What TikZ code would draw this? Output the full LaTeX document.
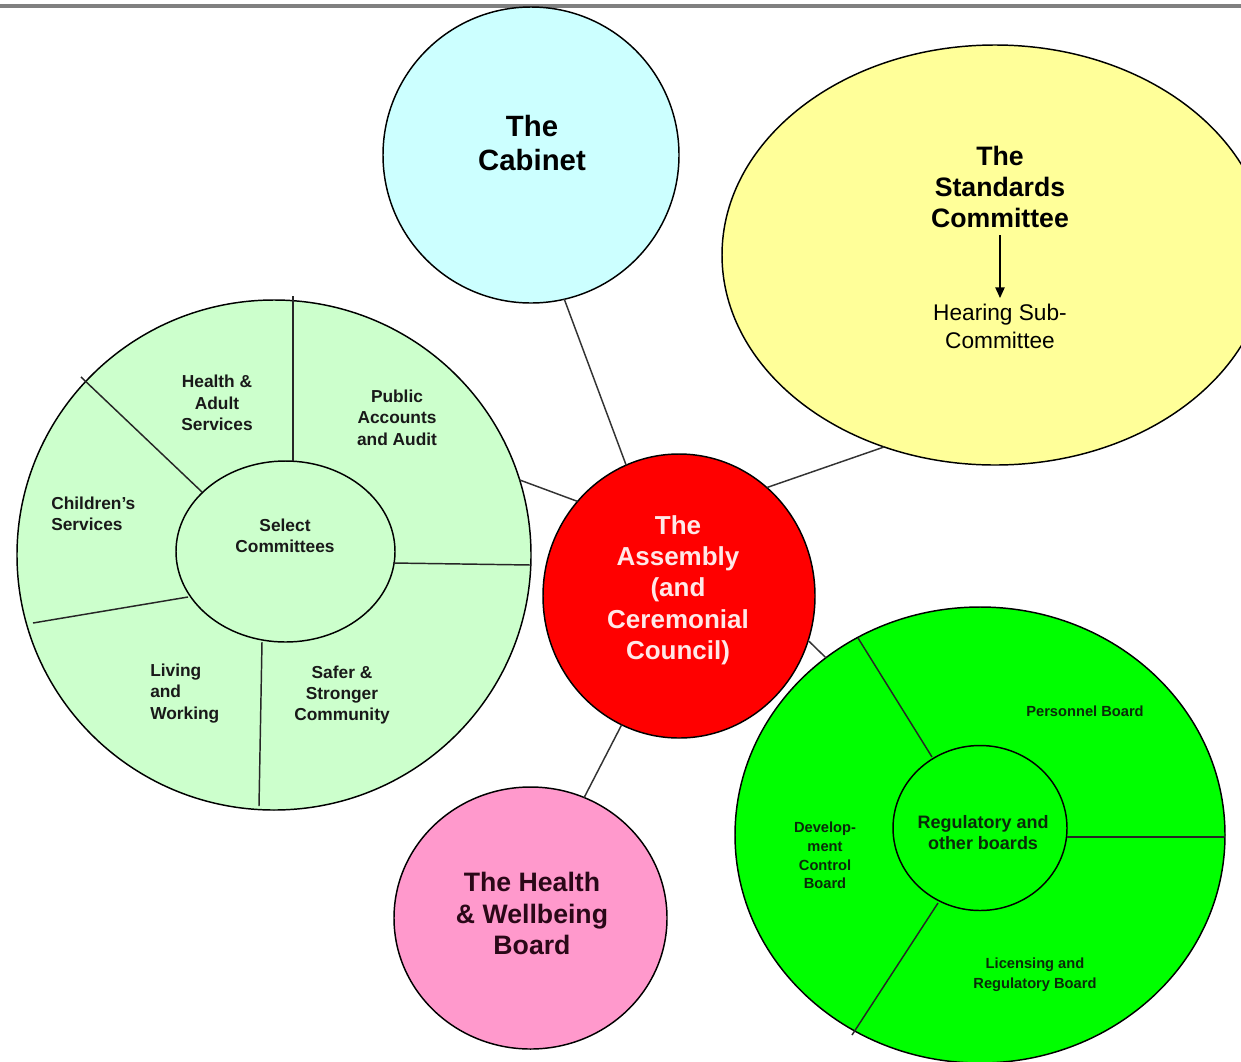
\documentclass[tikz,border=0pt]{standalone}
\usepackage{fontspec}
\setmainfont{Liberation Sans}
\usetikzlibrary{shapes.geometric,arrows.meta}
\definecolor{cabfill}{HTML}{CCFFFF}
\definecolor{stdfill}{HTML}{FFFF99}
\definecolor{selfill}{HTML}{CCFFCC}
\definecolor{asmfill}{HTML}{FF0000}
\definecolor{pinkfill}{HTML}{FF99CC}
\definecolor{grnfill}{HTML}{00FF00}
\definecolor{asmtext}{HTML}{FFE8E8}
\definecolor{pinktext}{HTML}{2A0818}
\definecolor{grntext}{HTML}{0A2A0A}
\begin{document}
\begin{tikzpicture}[x=0.75pt,y=-0.75pt,
  blob/.style={ellipse, draw=black, line width=1.1pt, inner sep=0pt, outer sep=0pt},
  conn/.style={draw=black!80, line width=1.1pt},
  divider/.style={draw=black!85, line width=1.1pt},
  lbl/.style={align=center, inner sep=0pt, font=\bfseries},
  big/.style={lbl, font=\bfseries\fontsize{22}{25}\selectfont},
  mid/.style={lbl, font=\bfseries\fontsize{19.5}{23.5}\selectfont},
  small/.style={lbl, text=black!90, font=\bfseries\fontsize{13}{16}\selectfont},
  tiny/.style={lbl, text=grntext, font=\bfseries\fontsize{11}{15}\selectfont},
]
\useasboundingbox (0,0) rectangle (1241,1061);
\fill[white] (0,0) rectangle (1241,1061);
\begin{scope}
\clip (0,0) rectangle (1241,1061);
\draw[gray, line width=2.3pt] (0,6) -- (1241,6);

% main shapes
\node[blob, fill=cabfill, minimum width=222pt, minimum height=222pt] (cab) at (531,155) {};
\node[blob, fill=stdfill, minimum width=409.5pt, minimum height=315pt] (std) at (995,255) {};
\node[blob, fill=selfill, minimum width=385.5pt, minimum height=382.5pt] (selo) at (274,555) {};
\node[blob, fill=selfill, minimum width=164.25pt, minimum height=135.75pt] (seli) at (285.5,551.5) {};
\node[blob, fill=asmfill, minimum width=204pt, minimum height=213pt] (asm) at (679,596) {};
\node[blob, fill=pinkfill, minimum width=204.75pt, minimum height=196.5pt] (pink) at (530.5,918) {};
\node[blob, fill=grnfill, minimum width=367.5pt, minimum height=342pt] (grno) at (980,835) {};
\node[blob, fill=grnfill, minimum width=130.5pt, minimum height=123.75pt] (grni) at (980,828) {};

% connectors
\draw[conn] (cab.283) -- (asm.112);
\draw[conn] (std.240) -- (asm.51);
\draw[conn] (selo.17) -- (asm.137);
\draw[conn] (asm.-19) -- (grno.131);
\draw[conn] (asm.246) -- (pink.66);

% dividers of the select committees ring
\draw[divider] (293,296) -- (293,461);
\draw[divider] (81,377) -- (202,492);
\draw[divider] (33,623) -- (188,597);
\draw[divider] (259,806) -- (262,642);
\draw[divider] (393,563) -- (531,565);
% dividers of the boards ring
\draw[divider] (858,638) -- (932,757);
\draw[divider] (1067,837) -- (1224,837);
\draw[divider] (938,903) -- (852,1035);

% texts
\node[big] (cabt) at (532,143) {The\\Cabinet};
\node[lbl, font=\bfseries\fontsize{20}{23}\selectfont] (stdt) at (1000,187) {The\\Standards\\Committee};
\node[lbl, font=\fontsize{17}{21}\selectfont] (hear) at (1000,326) {Hearing Sub-\\Committee};
\coordinate (arrS) at (1000,235);
\coordinate (arrE) at (1000,298);
\draw[line width=1pt, -{Triangle[length=8pt,width=7pt]}] (arrS) -- (arrE);

\node[mid, text=asmtext] (asmt) at (678,590) {The\\Assembly\\(and\\Ceremonial\\Council)};
\node[lbl, text=pinktext, font=\bfseries\fontsize{20}{23.5}\selectfont] (pinkt) at (532,913.5) {The Health\\\& Wellbeing\\Board};

\node[small] (t1) at (217,403) {Health \&\\Adult\\Services};
\node[small] (t2) at (397,417.5) {Public\\Accounts\\and Audit};
\node[small, align=left, anchor=west] (t3) at (51,513.5) {Children's\\Services};
\node[small] (t4) at (285,535.5) {Select\\Committees};
\node[small, align=left, anchor=west] (t5) at (150,693.5) {Living\\and\\Working};
\node[small] (t6) at (342,695) {Safer \&\\Stronger\\Community};

\node[tiny] (g1) at (1085,711) {Personnel Board};
\node[tiny, font=\bfseries\fontsize{11}{14}\selectfont] (g2) at (825,855.5) {Develop-\\ment\\Control\\Board};
\node[lbl, text=grntext, font=\bfseries\fontsize{13.5}{16}\selectfont] (g3) at (983,832.5) {Regulatory and\\other boards};
\node[tiny] (g4) at (1035,975) {Licensing and\\Regulatory Board};
\end{scope}
\end{tikzpicture}
\end{document}
